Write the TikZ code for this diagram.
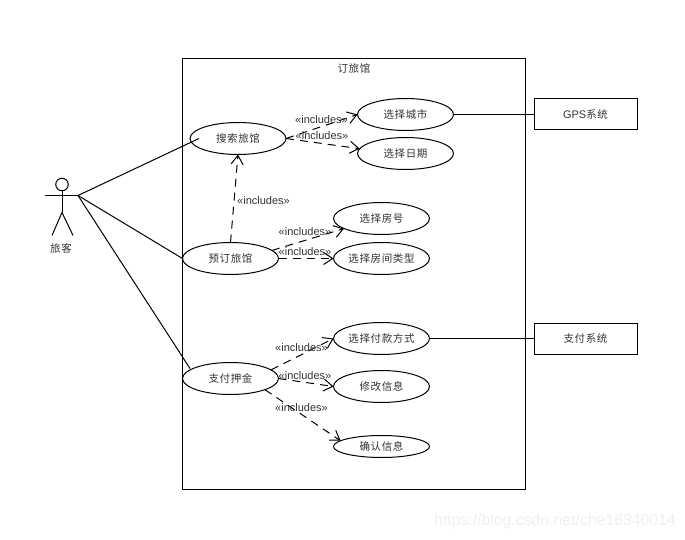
\documentclass[tikz,border=0pt]{standalone}
\usepackage{fontspec}
\setmainfont{Liberation Sans}
\newfontfamily\cjk[LetterSpace=6]{Noto Sans CJK SC}
\usetikzlibrary{shapes.geometric,arrows.meta}
\definecolor{cjktext}{HTML}{333333}
\tikzset{
  usecase/.style={draw=black,line width=1pt,ellipse,minimum width=96pt,minimum height=32pt,inner sep=0pt,outer sep=0pt,font=\cjk\fontsize{10.5}{12}\selectfont,text=cjktext},
  smallcase/.style={usecase,minimum height=22pt},
  extbox/.style={draw=black,line width=1pt,rectangle,minimum width=103pt,minimum height=31pt,inner sep=0pt,outer sep=0pt,font=\cjk\fontsize{10.5}{12}\selectfont,text=cjktext},
  assoc/.style={line width=1pt,black},
  incl/.style={line width=1pt,black,dash pattern=on 8pt off 6pt,-{Straight Barb[length=9pt,width=12pt,line width=1pt]}},
  incltext/.style={inner sep=0pt,font=\fontsize{11}{13}\selectfont,text=cjktext},
  cjklabel/.style={inner sep=0pt,font=\cjk\fontsize{10.5}{12}\selectfont,text=cjktext},
}
\begin{document}
\begin{tikzpicture}[x=1pt,y=-1pt]
\useasboundingbox (0,-0.5) rectangle (685,539.5);
\fill[white] (0,-0.5) rectangle (685,539.5);
% system boundary
\node[draw=black,line width=1pt,rectangle,minimum width=342.5pt,minimum height=431pt,inner sep=0pt,outer sep=0pt] (sys) at (353.75,273.5) {};
\node[cjklabel] (systitle) at (354,68) {订旅馆};
% actor
\node[draw=black,line width=1pt,circle,minimum size=12.5pt,inner sep=0pt,outer sep=0pt] (head) at (62,184) {};
\coordinate (hand) at (78,195);
\coordinate (handl) at (45,195);
\coordinate (hip) at (62,212);
\coordinate (footl) at (52,235);
\coordinate (footr) at (73,235);
\draw[assoc] (head.south) -- (hip);
\draw[assoc] (handl) -- (hand);
\draw[assoc] (footl) -- (hip) -- (footr);
\node[cjklabel] (actorlabel) at (61,248) {旅客};
% use cases
\node[usecase] (s)  at (238,138) {搜索旅馆};
\node[usecase] (b)  at (230.5,258) {预订旅馆};
\node[usecase] (p)  at (230.5,378) {支付押金};
\node[usecase] (c1) at (405.5,114) {选择城市};
\node[usecase] (c2) at (405.5,153) {选择日期};
\node[usecase] (r1) at (381.5,218) {选择房号};
\node[usecase] (r2) at (381.5,258) {选择房间类型};
\node[usecase] (m1) at (381.5,338) {选择付款方式};
\node[usecase] (m2) at (381.5,386) {修改信息};
\node[smallcase] (m3) at (381.5,446) {确认信息};
\node[extbox] (gps) at (585.5,114) {{\fontsize{11}{13}\selectfont\rmfamily GPS}系统};
\node[extbox] (pay) at (585.5,338) {支付系统};
% associations
\coordinate (sin) at (199,138);
\coordinate (pin) at (190,368);
\draw[assoc] (hand) -- (sin);
\draw[assoc] (hand) -- (b.west);
\draw[assoc] (hand) -- (pin);
\draw[assoc] (c1.east) -- (gps.west);
\draw[assoc] (m1.east) -- (pay.west);
% includes
\draw[incl] (s.east) -- (c1.west);
\draw[incl] (s.east) -- (c2.174);
\draw[incl] (b.north) -- (s.south);
\draw[incl] (b.11) -- (r1.195);
\draw[incl] (b.east) -- (r2.west);
\draw[incl] (p.12) -- (m1.west);
\draw[incl] (p.east) -- (m2.west);
\draw[incl] (p.-18) -- (m3.172);
\node[incltext] (l1) at (321.5,119.5) {«includes»};
\node[incltext] (l2) at (322,135) {«includes»};
\node[incltext] (l3) at (263.5,200.5) {«includes»};
\node[incltext] (l4) at (305,231.5) {«includes»};
\node[incltext] (l5) at (305,251.5) {«includes»};
\node[incltext] (l6) at (301.5,347.5) {«includes»};
\node[incltext] (l7) at (305,375) {«includes»};
\node[incltext] (l8) at (301.5,407.5) {«includes»};
% watermark
\node[inner sep=0pt,font=\fontsize{15.8}{18}\selectfont,text=black!6] (wm) at (555,521) {https://blog.csdn.net/che16340014};
\end{tikzpicture}
\end{document}
